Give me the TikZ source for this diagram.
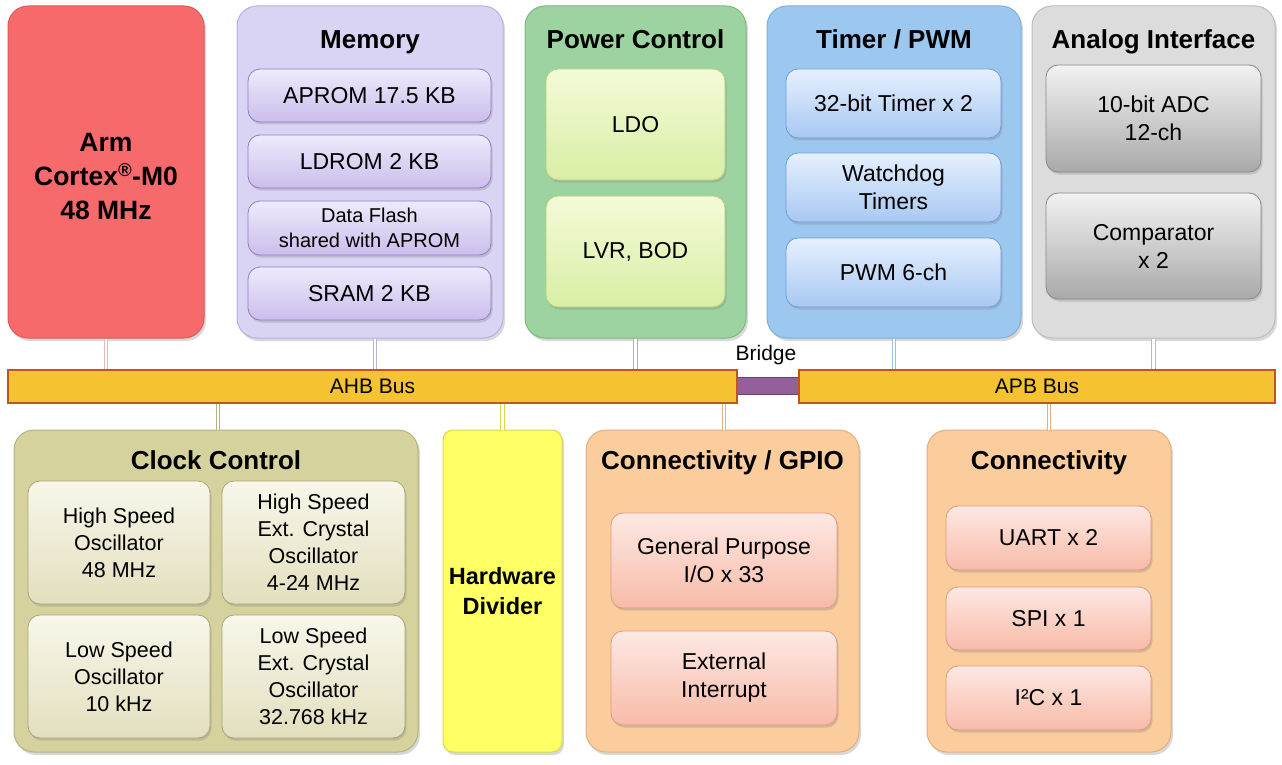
\documentclass[tikz,border=0pt]{standalone}
\usepackage{fontspec}
\setmainfont{Liberation Sans}
\usetikzlibrary{shadows}
\definecolor{armfill}{HTML}{F76A6C}\definecolor{armdraw}{HTML}{E05858}
\definecolor{memfill}{HTML}{D9D4F4}\definecolor{memdraw}{HTML}{B8B0E0}
\definecolor{memsubt}{HTML}{EEEAFC}\definecolor{memsubb}{HTML}{CBBEEC}\definecolor{memsubd}{HTML}{8F80C0}
\definecolor{pwrfill}{HTML}{9DD3A0}\definecolor{pwrdraw}{HTML}{7DB880}
\definecolor{pwrsubt}{HTML}{F4FBD8}\definecolor{pwrsubb}{HTML}{D8EEA4}\definecolor{pwrsubd}{HTML}{B5D07A}
\definecolor{tmrfill}{HTML}{9CC8F0}\definecolor{tmrdraw}{HTML}{7EAEDD}
\definecolor{tmrsubt}{HTML}{E6F0FF}\definecolor{tmrsubb}{HTML}{A8C8F2}\definecolor{tmrsubd}{HTML}{6F9BD8}
\definecolor{anafill}{HTML}{DCDCDC}\definecolor{anadraw}{HTML}{BDBDBD}
\definecolor{anasubt}{HTML}{F2F2F2}\definecolor{anasubb}{HTML}{A9A9A9}\definecolor{anasubd}{HTML}{888888}
\definecolor{busfill}{HTML}{F5C232}\definecolor{busdraw}{HTML}{C0561B}
\definecolor{brfill}{HTML}{93609A}\definecolor{brdraw}{HTML}{6E3F75}
\definecolor{clkfill}{HTML}{D5D29D}\definecolor{clkdraw}{HTML}{B5B27A}
\definecolor{clksubt}{HTML}{F8F7EA}\definecolor{clksubb}{HTML}{E2DFBE}\definecolor{clksubd}{HTML}{A9A57A}
\definecolor{hwdfill}{HTML}{FFFF66}\definecolor{hwddraw}{HTML}{D8D850}
\definecolor{gpiofill}{HTML}{FBCD9C}\definecolor{gpiodraw}{HTML}{E3AF7A}
\definecolor{gpiosubt}{HTML}{FDE8E3}\definecolor{gpiosubb}{HTML}{F8BBA8}\definecolor{gpiosubd}{HTML}{D99A86}
\tikzset{
  big/.style={rounded corners=20pt, line width=1pt, inner sep=0pt,
    drop shadow={shadow xshift=2pt, shadow yshift=-3pt, opacity=0.3}},
  sub/.style={rounded corners=12pt, line width=0.8pt, inner sep=0pt, align=center,
    font=\fontsize{23}{28}\selectfont,
    drop shadow={shadow xshift=1.5pt, shadow yshift=-2.5pt, opacity=0.3}},
  ttl/.style={font=\fontsize{26}{30}\selectfont\bfseries, inner sep=0pt, anchor=base},
  bus/.style={fill=busfill, draw=busdraw, line width=1.2pt, inner sep=0pt,
    font=\fontsize{21}{24}\selectfont},
  conn/.style={line width=1pt, double=white, double distance=2.5pt},
}
\begin{document}
\begin{tikzpicture}[x=1pt,y=-1pt]
\useasboundingbox[fill=white] (0,0) rectangle (1282,765);
% ---- top blocks
\node[big, fill=armfill, draw=armdraw, minimum width=196pt, minimum height=332pt] (arm) at (106,172) {};
\node[align=center, font=\fontsize{26.5}{34}\selectfont\bfseries, inner sep=0pt] (armt) at (106,177)
  {Arm\\Cortex\textsuperscript{\textregistered}-M0\\48 MHz};
\node[big, fill=memfill, draw=memdraw, minimum width=266pt, minimum height=332pt] (mem) at (370,172) {};
\node[ttl] (memt) at (370,49) {Memory};
\node[sub, top color=memsubt, bottom color=memsubb, draw=memsubd, minimum width=243pt, minimum height=53pt] (aprom) at (369.5,95.5) {APROM 17.5 KB};
\node[sub, top color=memsubt, bottom color=memsubb, draw=memsubd, minimum width=243pt, minimum height=53pt] (ldrom) at (369.5,161.5) {LDROM 2 KB};
\node[sub, top color=memsubt, bottom color=memsubb, draw=memsubd, minimum width=243pt, minimum height=54pt, font=\fontsize{20}{25}\selectfont] (dflash) at (369.5,228) {Data Flash\\shared with APROM};
\node[sub, top color=memsubt, bottom color=memsubb, draw=memsubd, minimum width=243pt, minimum height=53pt] (sram) at (369.5,293.5) {SRAM 2 KB};

\node[big, fill=pwrfill, draw=pwrdraw, minimum width=221pt, minimum height=332pt] (pwr) at (635.5,172) {};
\node[ttl] (pwrt) at (635.5,49) {Power Control};
\node[sub, top color=pwrsubt, bottom color=pwrsubb, draw=pwrsubd, minimum width=179pt, minimum height=111pt] (ldo) at (635.5,124.5) {LDO};
\node[sub, top color=pwrsubt, bottom color=pwrsubb, draw=pwrsubd, minimum width=179pt, minimum height=111pt] (lvr) at (635.5,251.5) {LVR, BOD};

\node[big, fill=tmrfill, draw=tmrdraw, minimum width=254pt, minimum height=332pt] (tmr) at (894,172) {};
\node[ttl] (tmrt) at (894,49) {Timer / PWM};
\node[sub, top color=tmrsubt, bottom color=tmrsubb, draw=tmrsubd, minimum width=215pt, minimum height=69pt] (timer) at (893.5,103.5) {32-bit Timer x 2};
\node[sub, top color=tmrsubt, bottom color=tmrsubb, draw=tmrsubd, minimum width=215pt, minimum height=69pt] (wdt) at (893.5,187.5) {Watchdog\\Timers};
\node[sub, top color=tmrsubt, bottom color=tmrsubb, draw=tmrsubd, minimum width=215pt, minimum height=69pt] (pwm) at (893.5,272.5) {PWM 6-ch};

\node[big, fill=anafill, draw=anadraw, minimum width=243pt, minimum height=332pt] (ana) at (1153.5,172) {};
\node[ttl] (anat) at (1153.5,49) {Analog Interface};
\node[sub, top color=anasubt, bottom color=anasubb, draw=anasubd, minimum width=215pt, minimum height=107pt] (adc) at (1153.5,118.5) {10-bit ADC\\12-ch};
\node[sub, top color=anasubt, bottom color=anasubb, draw=anasubd, minimum width=215pt, minimum height=106pt] (cmp) at (1153.5,246) {Comparator\\x 2};

% ---- buses
\node[fill=brfill, draw=brdraw, line width=1pt, minimum width=66pt, minimum height=17pt, inner sep=0pt] (br) at (768,385.5) {};
\node[bus, minimum width=729pt, minimum height=33pt] (ahb) at (372.5,386.5) {AHB Bus};
\node[bus, minimum width=476pt, minimum height=33pt] (apb) at (1037,386.5) {APB Bus};
\node[font=\fontsize{21}{24}\selectfont, inner sep=0pt] (brt) at (766,355) {Bridge};

% ---- bottom blocks
\node[big, fill=clkfill, draw=clkdraw, minimum width=404pt, minimum height=322pt] (clk) at (216,591) {};
\node[ttl] (clkt) at (216,469) {Clock Control};
\node[sub, top color=clksubt, bottom color=clksubb, draw=clksubd, minimum width=182pt, minimum height=123pt, font=\fontsize{21.5}{27}\selectfont] (hso) at (119,542.5) {High Speed\\Oscillator\\48 MHz};
\node[sub, top color=clksubt, bottom color=clksubb, draw=clksubd, minimum width=183pt, minimum height=123pt, font=\fontsize{21.5}{27}\selectfont] (hse) at (313.5,542.5) {High Speed\\Ext. Crystal\\Oscillator\\4-24 MHz};
\node[sub, top color=clksubt, bottom color=clksubb, draw=clksubd, minimum width=182pt, minimum height=123pt, font=\fontsize{21.5}{27}\selectfont] (lso) at (119,676.5) {Low Speed\\Oscillator\\10 kHz};
\node[sub, top color=clksubt, bottom color=clksubb, draw=clksubd, minimum width=183pt, minimum height=123pt, font=\fontsize{21.5}{27}\selectfont] (lse) at (313.5,676.5) {Low Speed\\Ext. Crystal\\Oscillator\\32.768 kHz};

\node[big, rounded corners=10pt, fill=hwdfill, draw=hwddraw, minimum width=119pt, minimum height=322pt,
  align=center, font=\fontsize{23.5}{30}\selectfont\bfseries] (hwd) at (502.5,591) {Hardware\\Divider};

\node[big, fill=gpiofill, draw=gpiodraw, minimum width=273pt, minimum height=322pt] (gpio) at (722.5,591) {};
\node[ttl] (gpiot) at (722.5,469) {Connectivity / GPIO};
\node[sub, top color=gpiosubt, bottom color=gpiosubb, draw=gpiosubd, minimum width=226pt, minimum height=95pt] (gpo) at (724,560.5) {General Purpose\\I/O x 33};
\node[sub, top color=gpiosubt, bottom color=gpiosubb, draw=gpiosubd, minimum width=226pt, minimum height=94pt] (eint) at (724,678) {External\\Interrupt};

\node[big, fill=gpiofill, draw=gpiodraw, minimum width=244pt, minimum height=322pt] (cn) at (1049,591) {};
\node[ttl] (cnt) at (1049,469) {Connectivity};
\node[sub, top color=gpiosubt, bottom color=gpiosubb, draw=gpiosubd, minimum width=205pt, minimum height=64pt] (uart) at (1048.5,538) {UART x 2};
\node[sub, top color=gpiosubt, bottom color=gpiosubb, draw=gpiosubd, minimum width=205pt, minimum height=63pt] (spi) at (1048.5,618.5) {SPI x 1};
\node[sub, top color=gpiosubt, bottom color=gpiosubb, draw=gpiosubd, minimum width=205pt, minimum height=64pt] (i2c) at (1048.5,698) {I²C x 1};

% ---- connectors
\draw[conn, draw=armdraw!45] (arm.south) -- (arm.south |- ahb.north);
\draw[conn, draw=memdraw] ([xshift=5pt]mem.south) -- ([xshift=5pt]mem.south |- ahb.north);
\draw[conn, draw=pwrdraw!80] (pwr.south) -- (pwr.south |- ahb.north);
\draw[conn, draw=tmrdraw!80] (tmr.south) -- (tmr.south |- apb.north);
\draw[conn, draw=anadraw] (ana.south) -- (ana.south |- apb.north);
\draw[conn, draw=clkdraw] ([xshift=2pt]clk.north) -- ([xshift=2pt]clk.north |- ahb.south);
\draw[conn, draw=hwddraw] (hwd.north) -- (hwd.north |- ahb.south);
\draw[conn, draw=gpiodraw] ([xshift=1.5pt]gpio.north) -- ([xshift=1.5pt]gpio.north |- ahb.south);
\draw[conn, draw=gpiodraw] (cn.north) -- (cn.north |- apb.south);
\end{tikzpicture}
\end{document}
